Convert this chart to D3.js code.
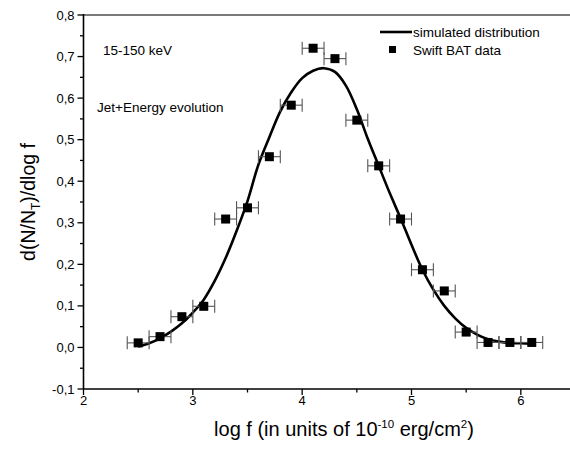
<!DOCTYPE html>
<html>
<head>
<meta charset="utf-8">
<script src="https://cdn.jsdelivr.net/npm/d3@7"></script>
<style>
  body { margin: 0; background: #fff; }
  svg text { font-family: "Liberation Sans", Arial, sans-serif; fill: #000; }
</style>
</head>
<body>
<div id="chart"></div>
<script>
// Swift BAT data points
const logF = [2.5, 2.7, 2.9, 3.1, 3.3, 3.5, 3.7, 3.9, 4.1, 4.3, 4.5, 4.7, 4.9, 5.1, 5.3, 5.5, 5.7, 5.9, 6.1];
const batValues = [0.011, 0.026, 0.074, 0.099, 0.309, 0.336, 0.459, 0.583, 0.720, 0.695, 0.547, 0.437, 0.309, 0.187, 0.136, 0.037, 0.012, 0.012, 0.012];
const xErr = 0.1;

// simulated distribution
const simX = [2.5, 2.6, 2.7, 2.8, 2.9, 3.0, 3.1, 3.2, 3.3, 3.4, 3.5, 3.6, 3.7, 3.8, 3.9, 4.0, 4.1, 4.2, 4.3, 4.4, 4.5, 4.6, 4.7, 4.8, 4.9, 5.0, 5.1, 5.2, 5.3, 5.4, 5.5, 5.6, 5.7, 5.8, 5.9, 6.0, 6.1];
const simY = [0.002, 0.010, 0.022, 0.038, 0.058, 0.084, 0.115, 0.160, 0.215, 0.280, 0.352, 0.440, 0.506, 0.568, 0.614, 0.648, 0.666, 0.672, 0.663, 0.630, 0.573, 0.502, 0.437, 0.372, 0.311, 0.247, 0.187, 0.139, 0.100, 0.070, 0.047, 0.031, 0.020, 0.014, 0.011, 0.010, 0.009];

const xTicks = [2, 3, 4, 5, 6];
const yTicks = [-0.1, 0, 0.1, 0.2, 0.3, 0.4, 0.5, 0.6, 0.7, 0.8];

const W = 570, H = 454;
const svg = d3.select('#chart').append('svg')
    .attr('width', W)
    .attr('height', H);

const x = d3.scaleLinear().domain([2, 6.5]).range([83.5, 575.5]);
const y = d3.scaleLinear().domain([-0.1, 0.8]).range([389, 15]);

const fmt = d => d3.format('.1f')(d).replace('.', ',').replace('−', '-');

// top frame (grey)
svg.append('line')
    .attr('x1', x(2)).attr('x2', W + 5)
    .attr('y1', y(0.8)).attr('y2', y(0.8))
    .attr('stroke', '#7a7a7a').attr('stroke-width', 2);

// x axis
const xAxis = svg.append('g').attr('transform', `translate(0,${y(-0.1)})`);
xAxis.append('line')
    .attr('x1', x(2)).attr('x2', W + 5)
    .attr('stroke', '#000').attr('stroke-width', 1.6);
xAxis.selectAll('.maj').data(xTicks).enter().append('line')
    .attr('x1', d => x(d)).attr('x2', d => x(d))
    .attr('y1', 0).attr('y2', 6)
    .attr('stroke', '#000').attr('stroke-width', 1.3);
xAxis.selectAll('.min').data(d3.range(2.5, 6.6, 1)).enter().append('line')
    .attr('x1', d => x(d)).attr('x2', d => x(d))
    .attr('y1', 0).attr('y2', 3.5)
    .attr('stroke', '#000').attr('stroke-width', 1.3);
xAxis.selectAll('text').data(xTicks).enter().append('text')
    .attr('x', d => x(d)).attr('y', 16)
    .attr('text-anchor', 'middle')
    .style('font-size', '13px')
    .text(d => d);

// y axis
const yAxis = svg.append('g').attr('transform', `translate(${x(2)},0)`);
yAxis.append('line')
    .attr('y1', y(-0.1)).attr('y2', y(0.8) - 1)
    .attr('stroke', '#000').attr('stroke-width', 1.6);
yAxis.selectAll('.maj').data(yTicks).enter().append('line')
    .attr('y1', d => y(d)).attr('y2', d => y(d))
    .attr('x1', 0).attr('x2', -6)
    .attr('stroke', '#000').attr('stroke-width', 1.3);
yAxis.selectAll('.min').data(d3.range(-0.05, 0.8, 0.1)).enter().append('line')
    .attr('y1', d => y(d)).attr('y2', d => y(d))
    .attr('x1', 0).attr('x2', -3.5)
    .attr('stroke', '#000').attr('stroke-width', 1.3);
yAxis.selectAll('text').data(yTicks).enter().append('text')
    .attr('x', -9).attr('y', d => y(d) + 4.5)
    .attr('text-anchor', 'end')
    .style('font-size', '13px')
    .text(d => fmt(d));

// axis titles
const yTitle = svg.append('text')
    .attr('transform', 'translate(35,202) rotate(-90)')
    .attr('text-anchor', 'middle')
    .style('font-size', '19.5px');
yTitle.append('tspan').text('d(N/N');
yTitle.append('tspan').attr('dy', 5).style('font-size', '12px').text('T');
yTitle.append('tspan').attr('dy', -5).text(')/dlog f');

const xTitle = svg.append('text')
    .attr('x', 344).attr('y', 436)
    .attr('text-anchor', 'middle')
    .style('font-size', '20px');
xTitle.append('tspan').text('log f (in units of 10');
xTitle.append('tspan').attr('dy', -8).style('font-size', '11.5px').text('-10');
xTitle.append('tspan').attr('dy', 8).text(' erg/cm');
xTitle.append('tspan').attr('dy', -8).style('font-size', '11.5px').text('2');
xTitle.append('tspan').attr('dy', 8).text(')');

// annotations
svg.append('text').attr('x', 103).attr('y', 55)
    .style('font-size', '13.5px').text('15-150 keV');
svg.append('text').attr('x', 97).attr('y', 112)
    .style('font-size', '13.5px').text('Jet+Energy evolution');

// simulated curve
const line = d3.line()
    .x((d, i) => x(simX[i]))
    .y(d => y(d))
    .curve(d3.curveCatmullRom);
svg.append('path')
    .datum(simY)
    .attr('d', line)
    .attr('fill', 'none')
    .attr('stroke', '#000')
    .attr('stroke-width', 2.6);

// error bars
const pts = logF.map((f, i) => ({ f: f, v: batValues[i] }));
const eb = svg.append('g').attr('stroke', '#555').attr('stroke-width', 1.1);
eb.selectAll('.h').data(pts).enter().append('line')
    .attr('x1', d => x(d.f - xErr)).attr('x2', d => x(d.f + xErr))
    .attr('y1', d => y(d.v)).attr('y2', d => y(d.v));
eb.selectAll('.cl').data(pts).enter().append('line')
    .attr('x1', d => x(d.f - xErr)).attr('x2', d => x(d.f - xErr))
    .attr('y1', d => y(d.v) - 6.5).attr('y2', d => y(d.v) + 6.5);
eb.selectAll('.cr').data(pts).enter().append('line')
    .attr('x1', d => x(d.f + xErr)).attr('x2', d => x(d.f + xErr))
    .attr('y1', d => y(d.v) - 6.5).attr('y2', d => y(d.v) + 6.5);

// data squares
svg.selectAll('.pt').data(pts).enter().append('rect')
    .attr('x', d => x(d.f) - 4.5).attr('y', d => y(d.v) - 4.5)
    .attr('width', 9).attr('height', 9)
    .attr('fill', '#000');

// legend
svg.append('line')
    .attr('x1', 380).attr('x2', 412).attr('y1', 32).attr('y2', 32)
    .attr('stroke', '#000').attr('stroke-width', 2.6);
svg.append('text').attr('x', 413).attr('y', 37)
    .style('font-size', '13.5px').text('simulated distribution');
svg.append('rect').attr('x', 389).attr('y', 46).attr('width', 7).attr('height', 7)
    .attr('fill', '#000');
svg.append('text').attr('x', 413).attr('y', 55)
    .style('font-size', '13.5px').text('Swift BAT data');
</script>
</body>
</html>
